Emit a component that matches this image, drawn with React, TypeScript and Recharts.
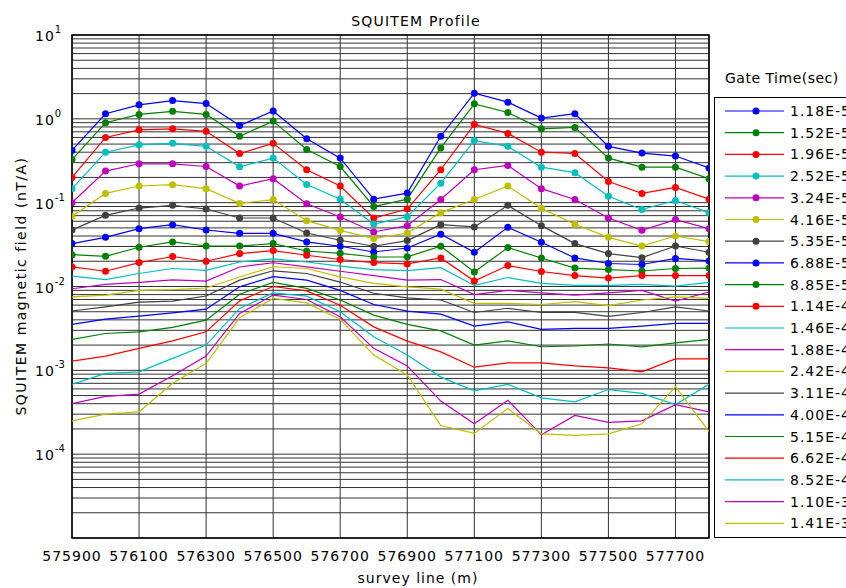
import { LineChart, Line, XAxis, YAxis, CartesianGrid, Legend, ReferenceArea } from 'recharts';

// survey positions (m)
const surveyLine = [
  575900, 576000, 576100, 576200, 576300, 576400, 576500, 576600, 576700, 576800,
  576900, 577000, 577100, 577200, 577300, 577400, 577500, 577600, 577700, 577800,
];

const gateTimes = [
  '1.18E-5', '1.52E-5', '1.96E-5', '2.52E-5', '3.24E-5', '4.16E-5', '5.35E-5',
  '6.88E-5', '8.85E-5', '1.14E-4', '1.46E-4', '1.88E-4', '2.42E-4', '3.11E-4',
  '4.00E-4', '5.15E-4', '6.62E-4', '8.52E-4', '1.10E-3', '1.41E-3',
];

// nT/A per gate
const gate01 = [0.42, 1.15, 1.47, 1.65, 1.52, 0.83, 1.24, 0.58, 0.34, 0.11, 0.13, 0.62, 2.02, 1.58, 1.02, 1.15, 0.47, 0.39, 0.36, 0.26];
const gate02 = [0.327, 0.9, 1.13, 1.23, 1.13, 0.62, 0.94, 0.43, 0.27, 0.09, 0.11, 0.45, 1.51, 1.19, 0.76, 0.79, 0.34, 0.265, 0.265, 0.193];
const gate03 = [0.2, 0.6, 0.74, 0.76, 0.71, 0.386, 0.51, 0.247, 0.158, 0.0655, 0.084, 0.247, 0.86, 0.67, 0.4, 0.386, 0.179, 0.129, 0.152, 0.11];
const gate04 = [0.147, 0.4, 0.49, 0.51, 0.47, 0.268, 0.34, 0.165, 0.11, 0.0556, 0.068, 0.171, 0.55, 0.47, 0.265, 0.228, 0.119, 0.083, 0.106, 0.076];
const gate05 = [0.1, 0.238, 0.291, 0.291, 0.27, 0.158, 0.193, 0.097, 0.0674, 0.0447, 0.0532, 0.109, 0.247, 0.278, 0.147, 0.109, 0.0656, 0.0468, 0.0628, 0.049];
const gate06 = [0.0687, 0.129, 0.158, 0.164, 0.147, 0.098, 0.109, 0.061, 0.0468, 0.0373, 0.0435, 0.076, 0.109, 0.158, 0.0855, 0.0552, 0.0386, 0.0304, 0.04, 0.0343];
const gate07 = [0.0472, 0.0706, 0.0863, 0.0929, 0.084, 0.0656, 0.0656, 0.0435, 0.0356, 0.0302, 0.0353, 0.0547, 0.0513, 0.0929, 0.0532, 0.0325, 0.0247, 0.0221, 0.0304, 0.0256];
const gate08 = [0.0325, 0.0386, 0.049, 0.0547, 0.0472, 0.0431, 0.0431, 0.034, 0.0302, 0.0258, 0.0288, 0.042, 0.0256, 0.0508, 0.0337, 0.0219, 0.0188, 0.0183, 0.0216, 0.0202];
const gate09 = [0.024, 0.0229, 0.0294, 0.034, 0.0304, 0.0304, 0.0325, 0.0265, 0.0249, 0.0225, 0.0226, 0.0302, 0.0149, 0.0291, 0.0219, 0.0166, 0.0159, 0.0153, 0.0164, 0.0166];
const gate10 = [0.0171, 0.0152, 0.0193, 0.0228, 0.02, 0.0247, 0.0268, 0.0236, 0.021, 0.0193, 0.0186, 0.0219, 0.0116, 0.0178, 0.0151, 0.0135, 0.0126, 0.0135, 0.0135, 0.0135];
const gate11 = [0.0133, 0.0121, 0.0143, 0.0164, 0.0156, 0.0196, 0.0214, 0.0196, 0.0175, 0.0159, 0.0155, 0.0168, 0.0103, 0.0128, 0.0109, 0.0103, 0.0103, 0.0106, 0.0101, 0.0112];
const gate12 = [0.0094, 0.0106, 0.0112, 0.012, 0.0116, 0.0171, 0.0192, 0.0171, 0.0152, 0.0135, 0.0119, 0.0121, 0.008, 0.009, 0.0084, 0.0079, 0.0084, 0.009, 0.0067, 0.0086];
const gate13 = [0.0075, 0.0079, 0.009, 0.0092, 0.0096, 0.013, 0.0172, 0.0164, 0.013, 0.0109, 0.0099, 0.0093, 0.0063, 0.0063, 0.0061, 0.0066, 0.0059, 0.0069, 0.0075, 0.0072];
const gate14 = [0.0051, 0.0057, 0.0065, 0.0067, 0.0077, 0.0119, 0.0154, 0.0143, 0.0113, 0.0083, 0.0073, 0.0069, 0.0049, 0.0055, 0.0049, 0.0049, 0.0044, 0.0049, 0.0057, 0.0051];
const gate15 = [0.00353, 0.00408, 0.00443, 0.00485, 0.00537, 0.0099, 0.0131, 0.0119, 0.009, 0.0061, 0.00508, 0.00468, 0.00337, 0.00379, 0.00308, 0.00316, 0.00316, 0.00337, 0.00363, 0.00363];
const gate16 = [0.00234, 0.00275, 0.00288, 0.00325, 0.00397, 0.0081, 0.0112, 0.0095, 0.0069, 0.00455, 0.00353, 0.00296, 0.002, 0.00225, 0.00191, 0.00195, 0.00206, 0.00191, 0.00213, 0.00234];
const gate17 = [0.00129, 0.00148, 0.00183, 0.00225, 0.00288, 0.00674, 0.01, 0.00887, 0.00599, 0.0033, 0.00223, 0.00166, 0.00109, 0.00123, 0.00123, 0.00113, 0.00107, 0.00096, 0.00137, 0.00137];
const gate18 = [0.00068, 0.00092, 0.00096, 0.00139, 0.002, 0.00547, 0.0084, 0.00767, 0.00499, 0.00251, 0.00152, 0.00083, 0.00057, 0.00068, 0.00047, 0.00042, 0.00059, 0.00053, 0.00039, 0.00068];
const gate19 = [0.0004, 0.00049, 0.00052, 0.00086, 0.00148, 0.00477, 0.0079, 0.007, 0.00435, 0.00183, 0.00113, 0.00043, 0.00023, 0.00044, 0.00017, 0.00029, 0.00024, 0.00025, 0.00039, 0.00032];
const gate20 = [0.00025, 0.0003, 0.00032, 0.0007, 0.00121, 0.00423, 0.0072, 0.00638, 0.00405, 0.00152, 0.00088, 0.00022, 0.000177, 0.00035, 0.000175, 0.000168, 0.000175, 0.00023, 0.00064, 0.000186];

const gates = [
  gate01, gate02, gate03, gate04, gate05, gate06, gate07, gate08, gate09, gate10,
  gate11, gate12, gate13, gate14, gate15, gate16, gate17, gate18, gate19, gate20,
];

const xTicks = [575900, 576100, 576300, 576500, 576700, 576900, 577100, 577300, 577500, 577700];
const decades = [1e-5, 1e-4, 1e-3, 1e-2, 1e-1, 1, 10];

// matlab default colour order
const palette = ['#0000ff', '#008000', '#ff0000', '#00bfbf', '#bf00bf', '#bfbf00', '#404040'];
const FONT = '"DejaVu Sans", sans-serif';

const yTicks: number[] = [];
for (let d = 0; d < decades.length - 1; d++) {
  for (let m = 1; m < 10; m++) yTicks.push(m * decades[d]);
}
yTicks.push(10);

const rows = surveyLine.map((x, i) => {
  const row: Record<string, number> = { x };
  gates.forEach((g, k) => (row['g' + k] = g[i]));
  return row;
});

const colorOf = (k: number) => palette[k % palette.length];

const YTick = ({ y, payload }: any) => {
  const p = Math.log10(payload.value);
  const e = Math.round(p);
  if (Math.abs(p - e) > 1e-6 || e === -5) return null;
  return (
    <text x={35} y={y + 6} fontSize={14} fontFamily={FONT} fill="#000" letterSpacing={1}>
      10
      <tspan dy={-8} fontSize={10} letterSpacing={0}>{e}</tspan>
    </text>
  );
};

const XTick = ({ x, payload }: any) => (
  <text x={x} y={561} textAnchor="middle" fontSize={14} fontFamily={FONT} fill="#000" letterSpacing={1}>
    {payload.value}
  </text>
);

const renderLegend = () => (
  <svg width={132} height={480} style={{ display: 'block', overflow: 'hidden' }}>
    <text x={11} y={23} fontSize={14} fontFamily={FONT} fill="#000" letterSpacing={0.5}>Gate Time(sec)</text>
    <rect x={0.5} y={37.5} width={160} height={440} fill="#fff" stroke="#000" />
    {gateTimes.map((g, k) => {
      const y = 51 + k * 21.7;
      return (
        <g key={g}>
          <line x1={11} x2={70} y1={y} y2={y} stroke={colorOf(k)} strokeWidth={1.2} />
          {k < 10 && <circle cx={42} cy={y} r={3.5} fill={colorOf(k)} />}
          <text x={76} y={y + 5} fontSize={14} fontFamily={FONT} fill="#000" letterSpacing={1}>{g}</text>
        </g>
      );
    })}
  </svg>
);

export default function App() {
  return (
    <div style={{ position: 'fixed', left: 0, top: 0, width: 846, height: 588, overflow: 'hidden', background: '#fff' }}>
      <LineChart width={846} height={588} data={rows} margin={{ top: 35, right: 137, bottom: 0, left: 0 }}>
        <CartesianGrid stroke="#333" strokeWidth={1} />
        <XAxis
          dataKey="x"
          type="number"
          domain={[575900, 577800]}
          ticks={xTicks}
          tick={<XTick />}
          tickLine={false}
          axisLine={false}
          height={50}
          allowDataOverflow
          label={{
            content: () => (
              <text x={418} y={583} textAnchor="middle" fontSize={14} fontFamily={FONT} fill="#000" letterSpacing={1}>
                survey line (m)
              </text>
            ),
          }}
        />
        <YAxis
          type="number"
          scale="log"
          domain={[1e-5, 10]}
          ticks={yTicks}
          tick={<YTick />}
          tickLine={false}
          axisLine={false}
          width={72}
          interval={0}
          allowDataOverflow
          label={{
            content: () => (
              <g>
                <text x={416} y={26} textAnchor="middle" fontSize={14} fontFamily={FONT} fill="#000" letterSpacing={1.2}>
                  SQUITEM Profile
                </text>
                <text
                  transform="translate(26,286) rotate(-90)"
                  textAnchor="middle"
                  fontSize={14}
                  fontFamily={FONT}
                  fill="#000"
                  letterSpacing={1.5}
                >
                  SQUITEM magnetic field (nT/A)
                </text>
              </g>
            ),
          }}
        />
        <ReferenceArea x1={575900} x2={577800} y1={1e-5} y2={10} fill="none" stroke="#000" strokeWidth={1.5} ifOverflow="visible" />
        {gates.map((_, k) => (
          <Line
            key={k}
            dataKey={'g' + k}
            name={gateTimes[k]}
            type="linear"
            stroke={colorOf(k)}
            strokeWidth={1.2}
            dot={k < 10 ? { r: 3.5, fill: colorOf(k), stroke: 'none' } : false}
            activeDot={false}
            isAnimationActive={false}
          />
        ))}
        <Legend
          layout="vertical"
          align="center"
          verticalAlign="middle"
          content={renderLegend}
          wrapperStyle={{ left: 714, top: 60, width: 132, height: 480 }}
        />
      </LineChart>
    </div>
  );
}
